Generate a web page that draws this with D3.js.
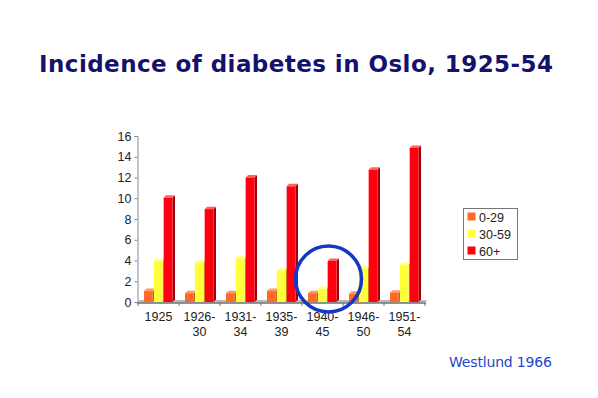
<!DOCTYPE html>
<html>
<head>
<meta charset="utf-8">
<script src="https://cdn.jsdelivr.net/npm/d3@7"></script>
<style>
  body { margin: 0; background: #fff; }
  svg { display: block; }
</style>
</head>
<body>
<div id="chart"></div>
<script>
// incidence per age group
var periods = [["1925"], ["1926-", "30"], ["1931-", "34"], ["1935-", "39"], ["1940-", "45"], ["1946-", "50"], ["1951-", "54"]];
var groups = ["0-29", "30-59", "60+"];
var age0_29  = [1.05, 0.85, 0.85, 1.05, 0.85, 0.8, 0.9];
var age30_59 = [3.95, 3.8, 4.2, 3.05, 1.25, 3.2, 3.6];
var age60    = [10.05, 8.95, 12.0, 11.15, 3.95, 12.75, 14.85];
var yTicks = [0, 2, 4, 6, 8, 10, 12, 14, 16];

var width = 598, height = 398;
var front = { "0-29": "#ff6a26", "30-59": "#ffff3a", "60+": "#ff0010" };
var side  = { "0-29": "#b44a14", "30-59": "#b8b81c", "60+": "#a00008" };
var top_  = { "0-29": "#ff9a66", "30-59": "#ffff99", "60+": "#ff6060" };
var depth = 2.5;

var svg = d3.select("#chart").append("svg")
    .attr("width", width)
    .attr("height", height);

// title
svg.append("text")
    .attr("x", 39)
    .attr("y", 72)
    .attr("textLength", 514)
    .attr("lengthAdjust", "spacing")
    .style("font-family", "'DejaVu Sans', sans-serif")
    .style("font-weight", "bold")
    .style("font-size", "23px")
    .attr("fill", "#13136c")
    .text("Incidence of diabetes in Oslo, 1925-54");

var keys = periods.map(function (p) { return p.join(""); });

var x = d3.scaleBand()
    .domain(keys)
    .range([138, 425]);

var xs = d3.scaleBand()
    .domain(groups)
    .range([6, 34.5])
    .paddingInner(0.1);

var y = d3.scaleLinear()
    .domain([0, 16])
    .range([302, 136]);

// y axis
var yAxis = svg.append("g")
    .attr("transform", "translate(137.5,0)")
    .call(d3.axisLeft(y).tickValues(yTicks).tickSize(3).tickSizeOuter(3));
yAxis.select(".domain").attr("stroke", "#8a8a8a");
yAxis.selectAll(".tick line").attr("stroke", "#8a8a8a");
yAxis.selectAll(".tick text")
    .attr("x", -6)
    .style("font-family", "'Liberation Sans', Arial, sans-serif")
    .style("font-size", "12.5px")
    .attr("fill", "#222");

// floor
svg.append("path")
    .attr("d", "M137,302.5 L425,302.5 L427.5,300 L139.5,300 Z")
    .attr("fill", "#b8b8b8");
svg.append("line")
    .attr("x1", 137).attr("x2", 426)
    .attr("y1", 303).attr("y2", 303)
    .attr("stroke", "#707070")
    .attr("stroke-width", 1.5);

// category boundary ticks
svg.append("g").selectAll("line")
    .data(keys.concat(["end"]))
    .enter().append("line")
    .attr("x1", function (d, i) { return i < keys.length ? x(d) : x.range()[1]; })
    .attr("x2", function (d, i) { return i < keys.length ? x(d) : x.range()[1]; })
    .attr("y1", 303).attr("y2", 306)
    .attr("stroke", "#707070");

// x labels
var xl = svg.append("g").selectAll("text")
    .data(periods)
    .enter().append("text")
    .attr("x", function (d, i) { return x(keys[i]) + x.bandwidth() / 2; })
    .attr("y", 321)
    .attr("text-anchor", "middle")
    .style("font-family", "'Liberation Sans', Arial, sans-serif")
    .style("font-size", "12.5px")
    .attr("fill", "#222");
xl.each(function (d) {
    var t = d3.select(this);
    d.forEach(function (line, j) {
        t.append("tspan")
            .attr("x", t.attr("x"))
            .attr("dy", j === 0 ? 0 : 15)
            .text(line);
    });
});

// bars (pseudo 3d)
var rows = [];
keys.forEach(function (k, i) {
    rows.push({ key: k, group: "0-29", value: age0_29[i] });
    rows.push({ key: k, group: "30-59", value: age30_59[i] });
    rows.push({ key: k, group: "60+", value: age60[i] });
});

var bar = svg.append("g").selectAll("g")
    .data(rows)
    .enter().append("g");

bar.append("path")
    .attr("fill", function (d) { return side[d.group]; })
    .attr("d", function (d) {
        var x1 = x(d.key) + xs(d.group) + xs.bandwidth();
        var y0 = y(0), y1 = y(d.value);
        return "M" + x1 + "," + y0 + " L" + x1 + "," + y1 +
            " L" + (x1 + depth) + "," + (y1 - depth) +
            " L" + (x1 + depth) + "," + (y0 - depth) + " Z";
    });

bar.append("path")
    .attr("fill", function (d) { return top_[d.group]; })
    .attr("d", function (d) {
        var x0 = x(d.key) + xs(d.group);
        var x1 = x0 + xs.bandwidth();
        var y1 = y(d.value);
        return "M" + x0 + "," + y1 + " L" + x1 + "," + y1 +
            " L" + (x1 + depth) + "," + (y1 - depth) +
            " L" + (x0 + depth) + "," + (y1 - depth) + " Z";
    });

bar.append("rect")
    .attr("x", function (d) { return x(d.key) + xs(d.group); })
    .attr("y", function (d) { return y(d.value); })
    .attr("width", xs.bandwidth())
    .attr("height", function (d) { return y(0) - y(d.value); })
    .attr("fill", function (d) { return front[d.group]; });

// highlight circle round 1940-45
svg.append("circle")
    .attr("cx", x("1940-45") + x.bandwidth() / 2 + 6)
    .attr("cy", 279)
    .attr("r", 33)
    .attr("fill", "none")
    .attr("stroke", "#1438c4")
    .attr("stroke-width", 3.5);

// legend
var lg = svg.append("g").attr("transform", "translate(463,208)");
lg.append("rect")
    .attr("x", 0.5).attr("y", 0.5)
    .attr("width", 54).attr("height", 51)
    .attr("fill", "#fff")
    .attr("stroke", "#777");
var li = lg.selectAll("g.item")
    .data(groups)
    .enter().append("g")
    .attr("class", "item")
    .attr("transform", function (d, i) { return "translate(0," + (9 + i * 17) + ")"; });
li.append("rect")
    .attr("x", 4.5).attr("y", -4.5)
    .attr("width", 8).attr("height", 8)
    .attr("fill", function (d) { return front[d]; });
li.append("text")
    .attr("x", 16)
    .attr("y", 4.5)
    .style("font-family", "'Liberation Sans', Arial, sans-serif")
    .style("font-size", "12.5px")
    .attr("fill", "#222")
    .text(function (d) { return d; });

// source
svg.append("text")
    .attr("x", 449)
    .attr("y", 367)
    .attr("textLength", 103)
    .attr("lengthAdjust", "spacing")
    .style("font-family", "'DejaVu Sans', sans-serif")
    .style("font-size", "14px")
    .attr("fill", "#2446c8")
    .text("Westlund 1966");
</script>
</body>
</html>
